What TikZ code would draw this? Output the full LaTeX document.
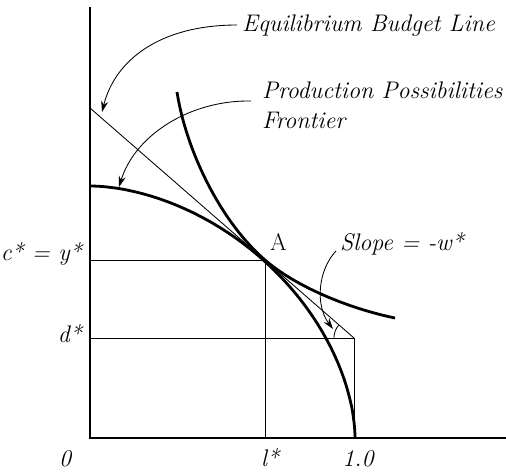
\documentclass[tikz,border=0pt]{standalone}
\usepackage{fontspec}
\usetikzlibrary{arrows.meta}
\begin{document}
\begin{tikzpicture}[x=1pt,y=-1pt,
  axis/.style={line width=2.8pt, line join=miter},
  curvebold/.style={line width=2.8pt},
  thinline/.style={line width=0.85pt},
  pointer/.style={line width=0.85pt, -{Stealth[length=11pt,width=7pt]}},
  lbl/.style={inner sep=0pt, font=\fontsize{24}{28}\selectfont\itshape},
  rlbl/.style={inner sep=0pt, font=\fontsize{24}{28}\selectfont},
  ]
\useasboundingbox (0,0) rectangle (506,472);
% key points
\coordinate (ytop) at (90,7);
\coordinate (O) at (90,438);
\coordinate (xend) at (506,438);
\coordinate (A) at (265,260);
\coordinate (bstart) at (90,108);
\coordinate (corner) at (354,338);
\coordinate (cy) at (90,260);
\coordinate (dy) at (90,338);
\coordinate (lx) at (265,438);
\coordinate (onex) at (354,438);
\coordinate (icstart) at (177,92);
\coordinate (icend) at (395,318);
% axes
\draw[axis] (ytop) -- (O) -- (xend);
% thin guide lines
\draw[thinline] (cy) -- (A) -- (lx);
\draw[thinline] (dy) -- (corner) -- (onex);
% budget line
\draw[thinline] (bstart) -- (corner);
% angle arc
\draw[thinline] plot[domain=180:221,samples=20,smooth] ({354+20*cos(\x)},{338+20*sin(\x)});
% production possibilities frontier
\draw[curvebold] plot[domain=0:90,samples=120,smooth]
  ({90+265*pow(max(abs(cos(\x)),0.0001),1.1111)},{438-252*pow(max(abs(sin(\x)),0.0001),1.1111)});
% indifference curve
\draw[curvebold] (icstart) .. controls (186,150) and (220,221) .. (A)
  .. controls (295,286) and (347,308) .. (icend);
% labels
\node[lbl, anchor=base west] (ebl) at (242,31) {Equilibrium Budget Line};
\node[lbl, anchor=base west] (ppf) at (262,98) {Production Possibilities};
\node[lbl, anchor=base west] (ppf2) at (262,128) {Frontier};
\node[rlbl, anchor=base west] (Alab) at (270,250) {A};
\node[lbl, anchor=base west] (slope) at (340,250) {Slope = -w*};
\node[lbl, anchor=base east] (clab) at (82,260) {c* = y*};
\node[lbl, anchor=base east] (dlab) at (82,342) {d*};
\node[lbl, anchor=base] (zlab) at (65,466) {0};
\node[lbl, anchor=base] (llab) at (270,466) {l*};
\node[lbl, anchor=base] (onelab) at (358,466) {1.0};
% pointers
\coordinate (p1s) at (237,25);
\coordinate (p1e) at (102,112);
\coordinate (p2s) at (251,101);
\coordinate (p2e) at (119,187);
\coordinate (p3s) at (336,251);
\coordinate (p3e) at (333,329);
\draw[pointer] (p1s) .. controls (160,25) and (115,60) .. (p1e);
\draw[pointer] (p2s) .. controls (190,100) and (135,135) .. (p2e);
\draw[pointer] (p3s) .. controls (318,270) and (315,305) .. (p3e);
\end{tikzpicture}
\end{document}
